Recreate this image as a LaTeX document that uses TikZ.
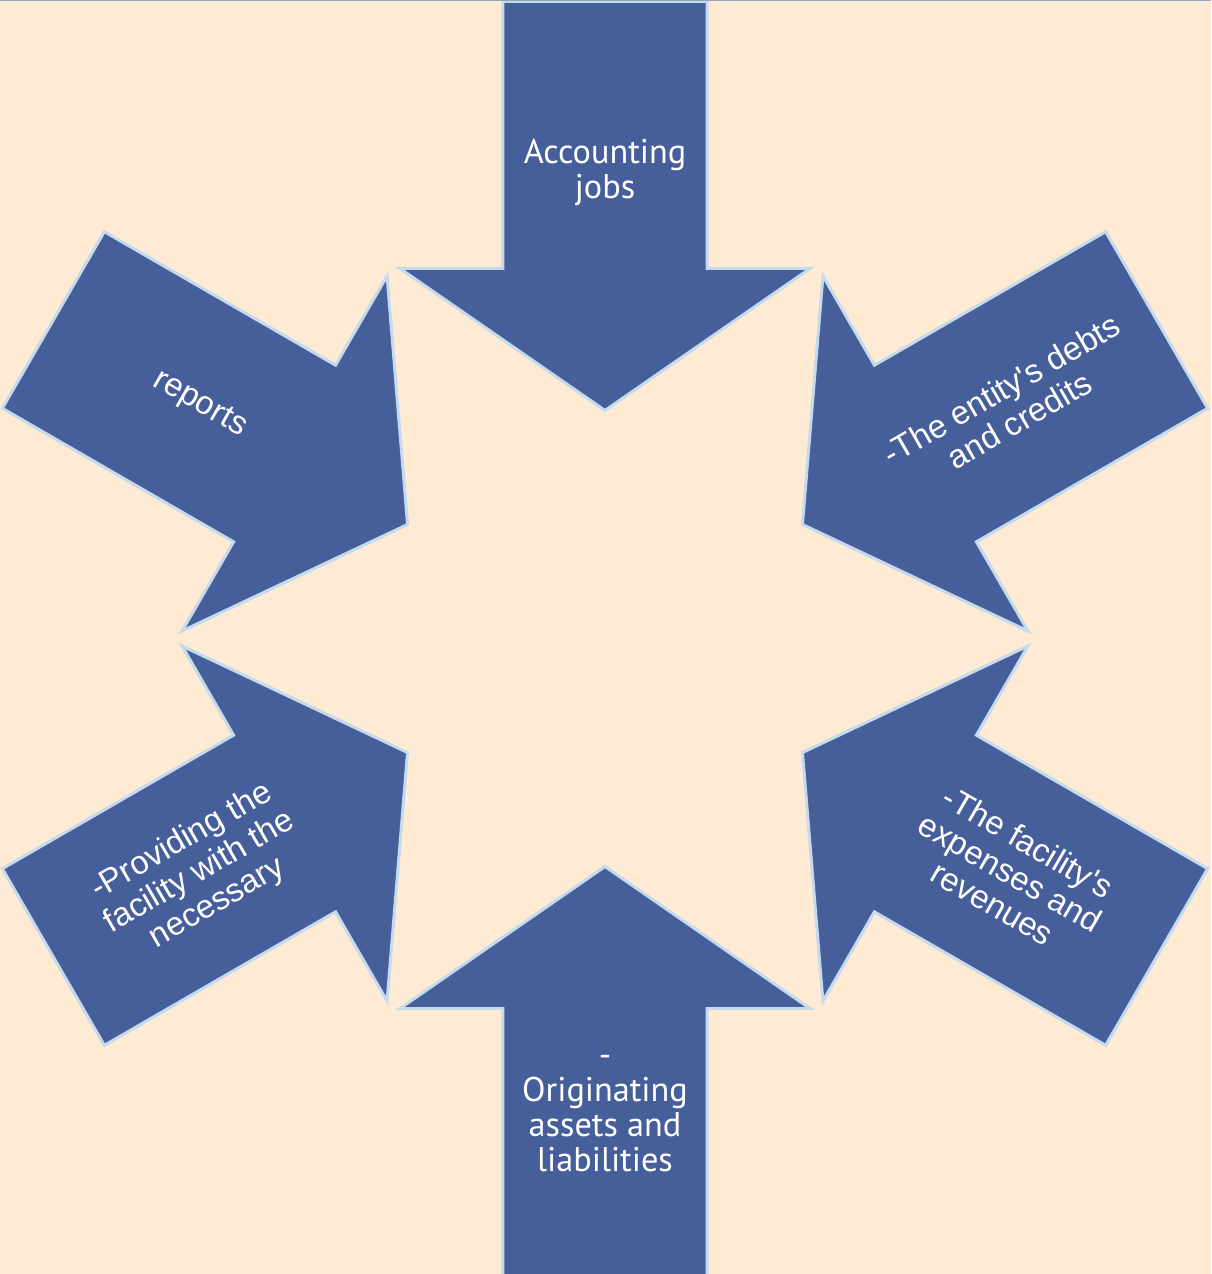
\documentclass[tikz,border=0pt]{standalone}
\usepackage{fontspec}
\setmainfont{Liberation Sans}
\newfontfamily\gothicfont{PT Sans}
\definecolor{sheet}{RGB}{255,235,212}
\definecolor{arrowblue}{RGB}{70,95,155}
\definecolor{rimblue}{RGB}{197,218,236}
\definecolor{edgegrey}{RGB}{140,165,190}
\begin{document}
\begin{tikzpicture}[x=0.02cm, y=0.02cm,
    inarrow/.style={fill=arrowblue, draw=rimblue, line width=0.06cm},
    arrowtext/.style={text=white, align=center, font=\fontsize{18.7}{20.2}\selectfont},
    uprighttext/.style={arrowtext, font=\gothicfont\fontsize{19.5}{19.8}\selectfont}]
    \coordinate (nw) at (-605,638.5);
    \coordinate (se) at (606,-635.5);
    \useasboundingbox (nw) rectangle (se);
    \fill [sheet] (nw) rectangle (se);
    \foreach \a in {90,30,-30,-90,-150,150} {
        \draw [inarrow, rotate=\a] (637,102) -- (370,102) -- (370,205) -- (228,0)
            -- (370,-205) -- (370,-102) -- (637,-102) -- cycle;
    }
    \draw [edgegrey, line width=0.03cm] (nw) -- (se |- nw);
    \node [uprighttext] (jobs) at (90:466) {Accounting\\jobs};
    \node [arrowtext, rotate=30] (debts) at (30:468) {-The entity\textquotesingle s debts\\and credits};
    \node [arrowtext, rotate=-30] (revenues) at (-30:468) {-The facility\textquotesingle s\\expenses and\\revenues};
    \node [uprighttext] (assets) at (-90:475) {-\\Originating\\assets and\\liabilities};
    \node [arrowtext, rotate=30] (providing) at (-150:468) {-Providing the\\facility with the\\necessary};
    \node [arrowtext, rotate=-30] (reports) at (150:468) {reports};
\end{tikzpicture}
\end{document}
